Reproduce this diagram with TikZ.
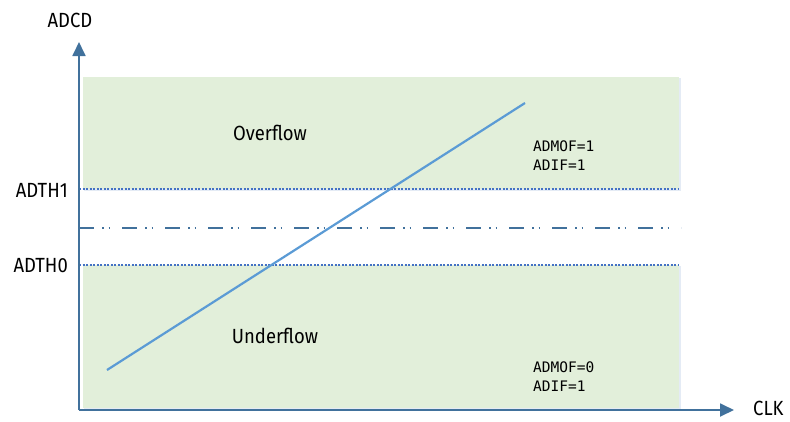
\documentclass[tikz,border=0pt]{standalone}
\usepackage{fontspec}
\setmainfont{Fira Sans}[FakeStretch=0.9]
\newfontfamily\monof{DejaVu Sans Mono}
\usetikzlibrary{arrows.meta}
\definecolor{axisblue}{RGB}{65,113,156}
\definecolor{lineblue}{RGB}{91,155,213}
\definecolor{dotblue}{RGB}{68,114,196}
\definecolor{zonegreen}{RGB}{226,239,218}
\definecolor{shadowblue}{RGB}{228,235,245}
\tikzset{
  zone/.style={fill=zonegreen, draw=none},
  zoneshadow/.style={fill=shadowblue, draw=none},
  axisline/.style={draw=axisblue, line width=1.8pt, -{Triangle[length=14pt,width=13pt]}},
  thline/.style={draw=dotblue, line width=1.3pt, dash pattern=on 2pt off 1.5pt},
  midline/.style={draw=axisblue, line width=2.4pt, dash pattern=on 15pt off 8pt on 1.5pt off 5pt on 1.5pt off 12pt},
  ramp/.style={draw=lineblue, line width=2.2pt},
  biglabel/.style={font=\fontsize{20.5}{24}\selectfont, inner sep=0pt},
  smalllabel/.style={font=\monof\fontsize{14.5}{19}\selectfont, inner sep=0pt, align=left, anchor=west},
}
\begin{document}
\begin{tikzpicture}[x=1pt,y=-1pt]
\useasboundingbox (0,0) rectangle (790,421);
% zones
\fill[zoneshadow] (84,78) rectangle (681,191);
\fill[zone] (83,77) rectangle (679,189);
\fill[zoneshadow] (84,266) rectangle (681,410);
\fill[zone] (83,265) rectangle (679,408);
% thresholds
\coordinate (th1a) at (79,189);
\coordinate (th1b) at (679,189);
\coordinate (th0a) at (79,265);
\coordinate (th0b) at (679,265);
\coordinate (mida) at (79,228);
\coordinate (midb) at (681,228);
\draw[thline] (th1a) -- (th1b);
\draw[thline] (th0a) -- (th0b);
\draw[midline] (mida) -- (midb);
% ramp
\coordinate (rs) at (107,370);
\coordinate (re) at (525,103);
\draw[ramp] (rs) -- (re);
% axes
\coordinate (o) at (79,410);
\coordinate (ytip) at (79,42);
\coordinate (xtip) at (734,410);
\draw[axisline] (o) -- (ytip);
\draw[axisline] (o) -- (xtip);
% labels
\node[biglabel] (adcd) at (70,20) {ADCD};
\node[biglabel, anchor=east] (adth1) at (68,190) {ADTH1};
\node[biglabel, anchor=east] (adth0) at (68,266) {ADTH0};
\node[biglabel, anchor=west] (clk) at (753,408) {CLK};
\node[biglabel] (over) at (270,133) {Overflow};
\node[biglabel] (under) at (275,336) {Underflow};
\node[smalllabel] (flag1) at (533,156) {ADMOF=1\\ADIF=1};
\node[smalllabel] (flag0) at (533,377) {ADMOF=0\\ADIF=1};
\end{tikzpicture}
\end{document}
